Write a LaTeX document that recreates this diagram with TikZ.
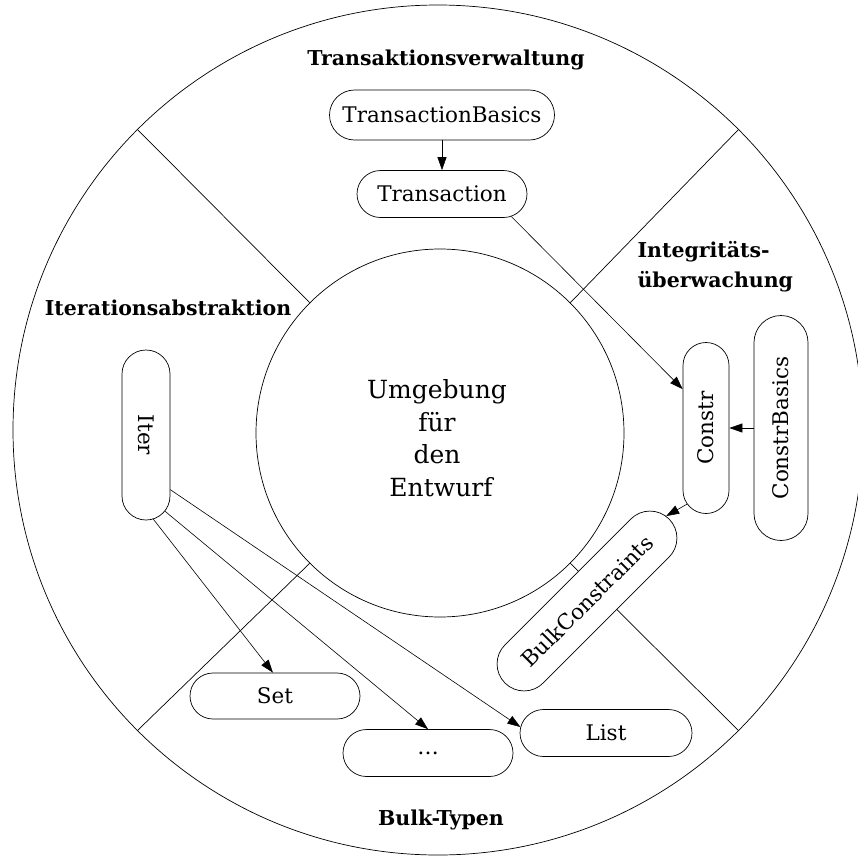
\documentclass[tikz,border=0pt]{standalone}
\usepackage{fontspec}
\setmainfont{DejaVu Serif}
\usetikzlibrary{shapes.misc,arrows.meta,calc}
% module labels take no width, so the box size is set by the style alone
\newcommand\zw[1]{\makebox[0pt]{#1}}

\begin{document}
\begin{tikzpicture}[x=1pt,y=-1pt,
  mod/.style={rounded rectangle, draw, fill=white, line width=0.7pt,
    inner xsep=0pt, inner ysep=2pt, font=\fontsize{21.5}{24}\selectfont},
  area/.style={font=\bfseries\fontsize{20.5}{30}\selectfont},
  link/.style={-{Triangle[length=13pt,width=9pt]}, line width=0.6pt},
  wall/.style={line width=0.7pt}]
\useasboundingbox (0,0) rectangle (858,860);

% outer ring and inner core
\coordinate (co) at (438,430);
\coordinate (ci) at (440,433);
\draw[wall] (co) circle[radius=425];
\draw[wall] (ci) circle[radius=184];

% the four sector walls
\draw[wall] ($(ci)+(-130,-130)$) -- ($(co)+(-300.5,-300.5)$);
\draw[wall] ($(ci)+(130,-130)$) -- ($(co)+(300.5,-300.5)$);
\draw[wall] ($(ci)+(-130,130)$) -- ($(co)+(-300.5,300.5)$);
\draw[wall] ($(ci)+(130,130)$) -- ($(co)+(300.5,300.5)$);

% core text
\node[font=\fontsize{25}{32.5}\selectfont, align=center] (env) at (437,438)
  {Umgebung\\für\hspace*{34pt}\\den\hspace*{18pt}\\\hspace*{8pt}Entwurf};

% sector titles
\node[area] (ltr) at (446,60) {Transaktionsverwaltung};
\node[area, align=left, anchor=west] (lint) at (634,267) {Integritäts-\\überwachung};
\node[area] (lit) at (168,308) {Iterationsabstraktion};
\node[area] (lbulk) at (441,820) {Bulk-Typen};

% modules
\node[mod, minimum width=225, minimum height=50] (tb) at (442,115) {\zw{TransactionBasics}};
\node[mod, minimum width=170, minimum height=47] (tr) at (442,194) {\zw{Transaction}};
\node[mod, rotate=-90, minimum width=170, minimum height=48] (iter) at (146,435) {\zw{Iter}};
\node[mod, rotate=90, minimum width=171, minimum height=46] (constr) at (706,428) {\zw{Constr}};
\node[mod, rotate=90, minimum width=225, minimum height=54] (cb) at (781,428) {\zw{ConstrBasics}};
\node[mod, rotate=45, minimum width=232, minimum height=54] (bc) at (587,601) {\zw{BulkConstraints}};
\node[mod, minimum width=170, minimum height=46] (set) at (275,696) {\zw{Set}};
\node[mod, minimum width=170, minimum height=47] (dots) at (428,753) {\zw{\dots}};
\node[mod, minimum width=172, minimum height=47] (list) at (606,733) {\zw{List}};

% dependencies
\draw[link] (tb) -- (tr);
\draw[link] (tr.-18) -- (constr.31);
\draw[link] (cb) -- (constr);
\draw[link] (constr.166) -- (bc.2);
\draw[link] (iter.5) -- (set.95);
\draw[link] (iter.14) -- (dots.90);
\draw[link] (iter.24) -- (list.176);
\end{tikzpicture}
\end{document}
